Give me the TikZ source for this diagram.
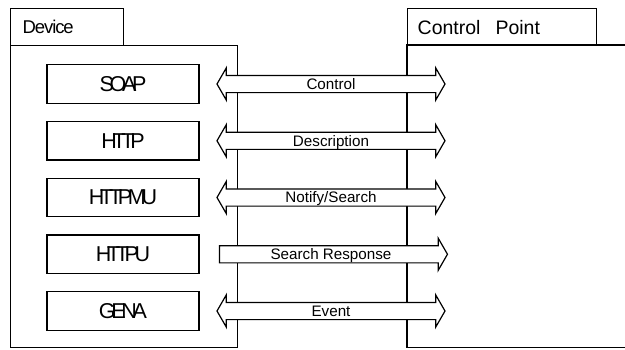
\documentclass[tikz,border=0pt]{standalone}
\usepackage{fontspec}
\setmainfont{Liberation Sans}
\newfontfamily\protofont[LetterSpace=-20]{Liberation Sans}
\newfontfamily\devfont[LetterSpace=-6]{Liberation Sans}
\usetikzlibrary{shapes.arrows}
\tikzset{
  frame/.style={draw, line width=1.2pt, inner sep=0pt},
  proto/.style={draw, line width=1.2pt, inner sep=0pt, minimum width=152pt, minimum height=38.5pt,
    font=\protofont\fontsize{21.5}{24}\selectfont},
  title/.style={anchor=base west, inner sep=0pt},
  flow/.style={draw, fill=white, line width=1.2pt, minimum height=228pt, inner xsep=0pt,
    text height=10.9pt, text depth=0pt, inner ysep=2.55pt,
    font=\fontsize{15.2}{17}\selectfont},
  both/.style={flow, double arrow, double arrow head extend=7.5pt, double arrow tip angle=120,
    double arrow head indent=0pt},
  oneway/.style={flow, single arrow, single arrow head extend=7.5pt, single arrow tip angle=120,
    single arrow head indent=0pt}
}
\begin{document}
\begin{tikzpicture}[x=1pt,y=-1pt]
\useasboundingbox (0,0) rectangle (625,349);
% Device
\node[frame, anchor=north west, minimum width=113pt, minimum height=37pt] (devtab) at (10,8) {};
\node[frame, anchor=north west, minimum width=226.5pt, minimum height=302pt] (dev) at (10,45) {};
\node[title, font=\devfont\fontsize{18.5}{20}\selectfont] (devlabel) at (22.5,33.5) {Device};
% Control Point
\node[frame, anchor=north west, minimum width=188.5pt, minimum height=37pt] (cptab) at (407,8) {};
\coordinate (cpa) at (626,45);
\coordinate (cpb) at (626,347.5);
\draw[line width=1.2pt] (cpa) -| (407,347.5) -- (cpb);
\node[title, font=\fontsize{19.5}{22}\selectfont] (cplabel) at (417.5,34.3) {Control\hspace{15pt}Point};
% protocol boxes
\node[proto] (soap)   at (123,84)     {SOAP};
\node[proto] (http)   at (123,140.75) {HTTP};
\node[proto] (httpmu) at (123,197.5)  {HTTPMU};
\node[proto] (httpu)  at (123,254.25) {HTTPU};
\node[proto] (gena)   at (123,311)    {GENA};
% flows
\node[both]   (control) at (331,84)     {Control};
\node[both]   (descr)   at (331,140.75) {Description};
\node[both]   (notify)  at (331,197.5)  {Notify/Search};
\node[oneway] (sresp)   at (331,254.25) {Search Response};
\node[both]   (event)   at (331,311)    {Event};
\end{tikzpicture}
\end{document}
